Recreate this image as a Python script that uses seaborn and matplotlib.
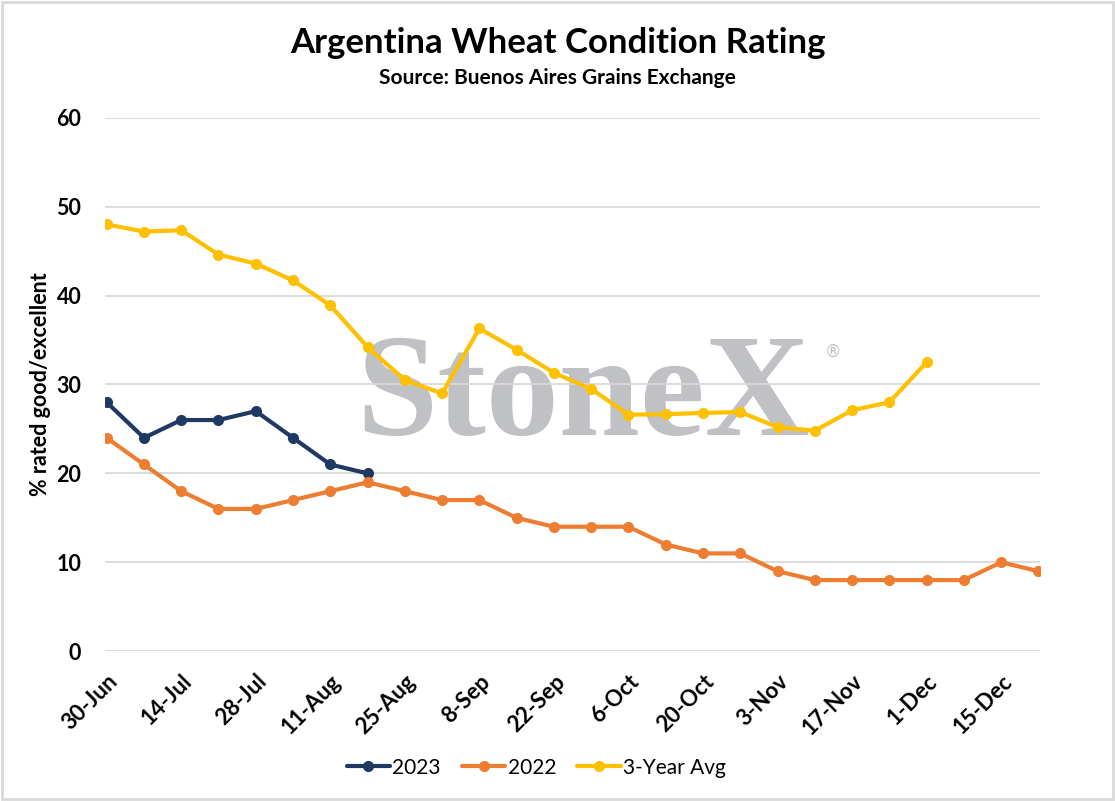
import matplotlib
matplotlib.use('Agg')
import matplotlib.pyplot as plt
import pandas as pd
import seaborn as sns
from matplotlib.patches import Rectangle

weeks = ['30-Jun', '7-Jul', '14-Jul', '21-Jul', '28-Jul', '4-Aug', '11-Aug', '18-Aug',
         '25-Aug', '1-Sep', '8-Sep', '15-Sep', '22-Sep', '29-Sep', '6-Oct', '13-Oct',
         '20-Oct', '27-Oct', '3-Nov', '10-Nov', '17-Nov', '24-Nov', '1-Dec', '8-Dec',
         '15-Dec', '22-Dec']
rating_2023 = [28, 24, 26, 26, 27, 24, 21, 20]
rating_2022 = [24, 21, 18, 16, 16, 17, 18, 19, 18, 17, 17, 15, 14, 14, 14, 12, 11, 11,
               9, 8, 8, 8, 8, 8, 10, 9]
avg_3yr = [48.0, 47.2, 47.35, 44.6, 43.6, 41.7, 38.9, 34.2, 30.5, 29.0, 36.3, 33.9, 31.3,
           29.5, 26.6, 26.65, 26.8, 26.9, 25.2, 24.8, 27.1, 28.0, 32.5]
series_names = ['2023', '2022', '3-Year Avg']
colors = ['#203864', '#ED7D31', '#FFC000']

rows = []
for name, vals in zip(series_names, [rating_2023, rating_2022, avg_3yr]):
    for i, v in enumerate(vals):
        rows.append({'week': i, 'value': v, 'series': name})
df = pd.DataFrame(rows)

sns.set_style('white')
plt.rcParams['font.family'] = ['Lato', 'DejaVu Sans']
plt.rcParams['text.color'] = 'black'
plt.rcParams['axes.labelcolor'] = 'black'
plt.rcParams['xtick.color'] = 'black'
plt.rcParams['ytick.color'] = 'black'

fig = plt.figure(figsize=(11.15, 8.01), dpi=100)
ax = fig.add_axes([0.094, 0.187, 0.839, 0.666])

# watermark sits under the gridlines
ax.text(0.511, 0.405, 'StoneX', transform=ax.transAxes, ha='center', va='baseline',
        fontsize=105, family='Liberation Serif', fontweight='bold', color='#C0C1C4',
        zorder=-1)
ax.text(0.778, 0.562, '\u00ae', transform=ax.transAxes, ha='center', va='center',
        fontsize=12, family='DejaVu Sans', color='#C0C1C4', zorder=-1)

sns.lineplot(data=df, x='week', y='value', hue='series', hue_order=series_names,
             palette=colors, marker='o', markersize=8, markeredgewidth=0,
             linewidth=3, ax=ax, zorder=3)

ax.set_ylim(0, 60)
ax.set_xlim(-0.05, len(weeks) - 0.95)
ax.set_yticks(range(0, 61, 10))
ax.yaxis.grid(True, color='#D9D9D9', linewidth=1.3)
ax.xaxis.grid(False)
ax.set_axisbelow(True)
for s in ax.spines.values():
    s.set_visible(False)

ax.set_xticks(range(0, len(weeks), 2))
ax.set_xticklabels(weeks[::2], rotation=45, ha='right', rotation_mode='anchor',
                   fontsize=16, fontweight='bold')
ax.tick_params(axis='x', length=0, pad=14)
ax.tick_params(axis='y', length=0, pad=17, labelsize=15.5)
for lbl in ax.get_yticklabels():
    lbl.set_fontweight('bold')

ax.set_xlabel('')
ax.set_ylabel('% rated good/excellent', fontsize=15.5, fontweight='bold', labelpad=4)

fig.text(0.5, 0.946, 'Argentina Wheat Condition Rating', ha='center', va='center',
         fontsize=25, fontweight='bold')
fig.text(0.5, 0.902, 'Source: Buenos Aires Grains Exchange', ha='center', va='center',
         fontsize=15, fontweight='bold')

handles, labels = ax.get_legend_handles_labels()
ax.legend(handles, labels, loc='center', bbox_to_anchor=(0.461, -0.218), ncol=3,
          frameon=False, fontsize=15, handlelength=2.1, columnspacing=1.0,
          handletextpad=0.1)

fig.patches.append(Rectangle((0.002, 0.002), 0.996, 0.996, transform=fig.transFigure,
                             fill=False, edgecolor='#D9D9D9', linewidth=2))

fig.savefig('out.png', dpi=100)
